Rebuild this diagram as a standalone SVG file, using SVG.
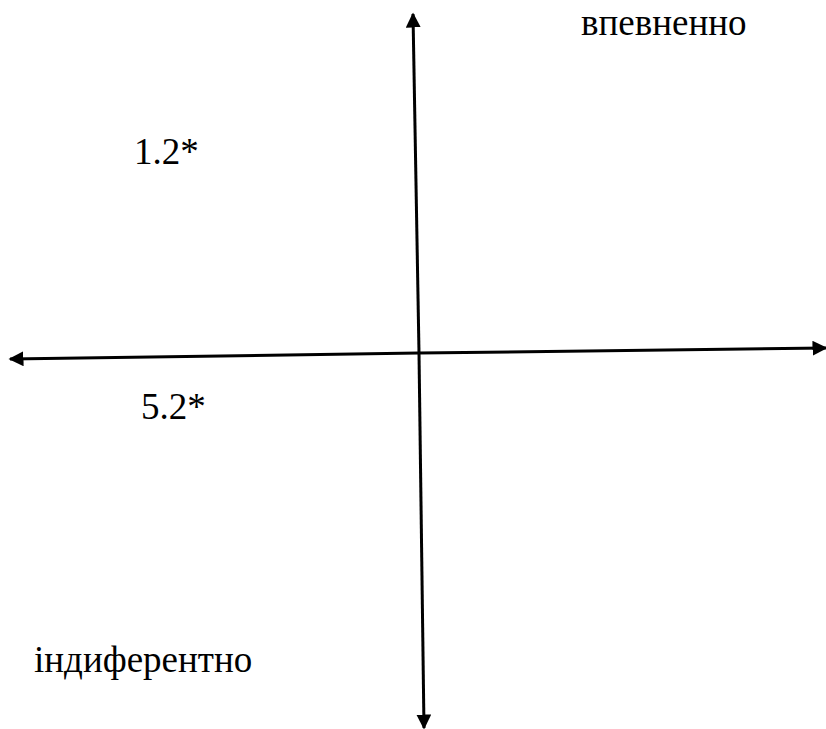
<svg xmlns="http://www.w3.org/2000/svg" width="826" height="729" viewBox="0 0 826 729">
<defs>
<marker id="ah" viewBox="0 0 10 10" refX="9" refY="5" markerWidth="5" markerHeight="5" orient="auto" markerUnits="strokeWidth">
<path d="M0,0 L10,5 L0,10 z" fill="#000"/>
</marker>
<style>
.ax{stroke:#000;stroke-width:3;fill:none;marker-end:url(#ah)}
.t{font-family:"Liberation Serif","Times New Roman",serif;font-size:37px;fill:#000}
</style>
</defs>
<g id="connectors">
<line class="ax" x1="419" y1="353" x2="413" y2="14"/>
<line class="ax" x1="419" y1="353" x2="424" y2="728"/>
<line class="ax" x1="419" y1="353" x2="10" y2="359"/>
<line class="ax" x1="419" y1="353" x2="826" y2="348"/>
</g>
<g id="label-vpevneno"><text class="t" x="581" y="35">впевненно</text></g>
<g id="label-12"><text class="t" x="134" y="164">1.2*</text></g>
<g id="label-52"><text class="t" x="141" y="419">5.2*</text></g>
<g id="label-indyferentno"><text class="t" x="34" y="672">індиферентно</text></g>
</svg>
